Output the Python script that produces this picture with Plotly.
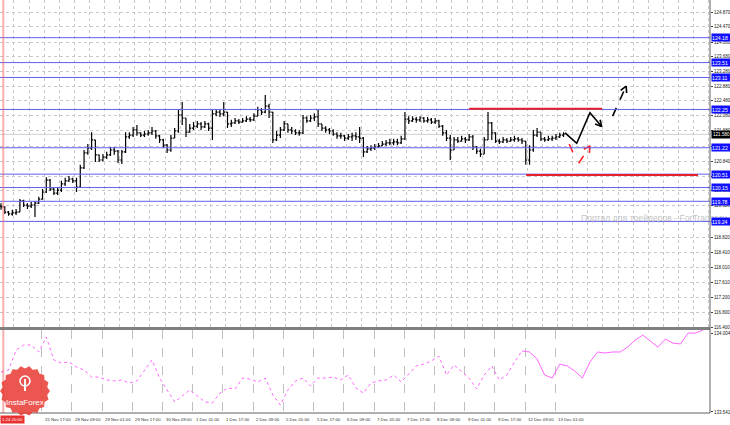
import math
import plotly.graph_objects as go

# ---------------- price bars (bar index = time slot) ----------------
bar_open = [119.65,119.63,119.49,119.44,119.47,119.49,119.79,119.68,119.65,119.68,
119.73,119.84,120.03,120.35,120.11,120.00,120.08,120.25,120.33,120.38,
120.33,120.16,120.68,121.08,121.21,121.43,121.03,120.89,120.97,121.03,
121.16,121.13,120.89,121.11,121.51,121.56,121.70,121.62,121.56,121.59,
121.62,121.67,121.54,121.43,121.29,121.16,121.48,121.67,122.10,122.02,
121.64,121.75,121.80,121.86,121.78,121.86,121.75,122.13,122.18,122.13,
122.18,121.86,121.89,121.94,121.91,121.94,121.99,121.97,122.07,122.24,
122.18,122.34,122.18,121.43,121.56,121.70,121.86,121.70,121.67,121.62,
121.62,122.02,121.94,122.02,122.05,121.86,121.75,121.70,121.67,121.59,
121.54,121.54,121.48,121.51,121.54,121.51,121.48,121.11,121.19,121.21,
121.24,121.27,121.32,121.35,121.35,121.38,121.35,121.46,121.99,121.94,
121.99,121.97,122.02,121.94,121.97,121.91,121.94,121.80,121.62,121.48,
121.16,121.43,121.40,121.46,121.43,121.51,121.24,121.13,121.05,121.43,
121.89,121.62,121.40,121.38,121.43,121.40,121.43,121.46,121.43,121.40,
120.89,121.16,121.56,121.64,121.46,121.43,121.46,121.48,121.51,121.56]
bar_high = [119.73,119.65,119.52,119.55,119.57,119.84,119.82,119.73,119.76,119.79,
119.90,120.11,120.43,120.38,120.14,120.16,120.33,120.41,120.46,120.41,
120.41,120.76,121.16,121.32,121.64,121.43,121.03,121.05,121.11,121.24,
121.24,121.16,121.16,121.64,121.64,121.78,121.83,121.64,121.67,121.70,
121.78,121.70,121.56,121.46,121.32,121.56,121.75,122.24,122.45,122.02,
121.86,121.91,121.94,121.91,121.94,121.89,122.24,122.26,122.24,122.45,
122.18,121.97,122.02,121.99,122.02,122.07,122.05,122.15,122.32,122.29,
122.64,122.40,122.18,121.67,121.78,121.94,121.86,121.78,121.72,121.70,
122.10,122.07,122.10,122.15,122.24,121.86,121.80,121.75,121.72,121.64,
121.62,121.56,121.59,121.62,121.64,121.78,121.51,121.27,121.29,121.32,
121.35,121.40,121.43,121.46,121.46,121.46,121.54,122.18,122.07,122.07,
122.05,122.07,122.05,122.05,122.02,122.02,121.97,121.83,121.70,121.56,
121.51,121.51,121.54,121.51,121.59,121.56,121.27,121.19,121.51,122.18,
121.91,121.64,121.46,121.51,121.48,121.51,121.54,121.51,121.48,121.40,
121.29,121.70,121.75,121.64,121.51,121.54,121.54,121.59,121.62,121.64]
bar_low = [119.55,119.44,119.39,119.39,119.41,119.49,119.63,119.57,119.60,119.36,
119.71,119.82,120.00,120.06,119.95,119.95,120.03,120.19,120.30,120.27,
120.03,120.14,120.65,121.03,121.16,120.84,120.84,120.86,120.92,121.00,
121.03,120.81,120.78,121.08,121.46,121.51,121.54,121.51,121.51,121.54,
121.56,121.46,121.35,121.21,121.08,121.11,121.48,121.62,121.83,121.51,
121.62,121.70,121.75,121.70,121.75,121.67,121.43,122.07,122.05,122.07,
121.75,121.78,121.86,121.86,121.89,121.91,121.91,121.94,122.07,122.10,
122.15,122.02,121.35,121.40,121.48,121.67,121.62,121.59,121.56,121.54,
121.59,121.89,121.91,121.94,121.78,121.67,121.62,121.59,121.54,121.46,
121.46,121.40,121.43,121.40,121.43,121.35,120.97,121.08,121.13,121.16,
121.21,121.27,121.27,121.29,121.29,121.29,121.32,121.43,121.86,121.91,
121.89,121.91,121.89,121.89,121.86,121.86,121.75,121.54,121.40,120.89,
121.16,121.35,121.38,121.35,121.40,121.16,121.05,120.97,121.05,121.43,
121.43,121.35,121.32,121.35,121.35,121.38,121.38,121.38,121.32,120.76,
120.76,121.11,121.51,121.40,121.38,121.40,121.40,121.43,121.48,121.51]
bar_close = [119.63,119.49,119.44,119.47,119.49,119.79,119.68,119.65,119.68,119.73,
119.84,120.03,120.35,120.11,120.00,120.08,120.25,120.33,120.38,120.33,
120.16,120.68,121.08,121.21,121.43,121.03,120.89,120.97,121.03,121.16,
121.13,120.89,121.11,121.51,121.56,121.70,121.62,121.56,121.59,121.62,
121.67,121.54,121.43,121.29,121.16,121.48,121.67,122.10,122.02,121.64,
121.75,121.80,121.86,121.78,121.86,121.75,122.13,122.18,122.13,122.18,
121.86,121.89,121.94,121.91,121.94,121.99,121.97,122.07,122.24,122.18,
122.34,122.18,121.43,121.56,121.70,121.86,121.70,121.67,121.62,121.62,
122.02,121.94,122.02,122.05,121.86,121.75,121.70,121.67,121.59,121.54,
121.54,121.48,121.51,121.54,121.51,121.48,121.11,121.19,121.21,121.24,
121.27,121.32,121.35,121.35,121.38,121.35,121.46,121.99,121.94,121.99,
121.97,122.02,121.94,121.97,121.91,121.94,121.80,121.62,121.48,121.16,
121.43,121.40,121.46,121.43,121.51,121.24,121.13,121.05,121.43,121.89,
121.62,121.40,121.38,121.43,121.40,121.43,121.46,121.43,121.40,120.89,
121.16,121.56,121.64,121.46,121.43,121.46,121.48,121.51,121.56,121.59]
bar_idx = list(range(len(bar_close)))

# ---------------- lower-panel indicator (one value every 2 bars) ----------------
ind_values = [133.776,133.787,133.904,133.934,133.934,133.893,133.981,133.846,133.828,133.834,
133.805,133.787,133.746,133.746,133.729,133.723,133.729,133.711,133.723,133.787,
133.846,133.740,133.670,133.600,133.635,133.670,133.635,133.600,133.594,133.652,
133.682,133.676,133.740,133.734,133.717,133.740,133.641,133.582,133.670,133.723,
133.740,133.693,133.740,133.740,133.746,133.729,133.758,133.682,133.652,133.711,
133.723,133.729,133.758,133.717,133.764,133.811,133.822,133.840,133.869,133.758,
133.817,133.776,133.740,133.676,133.758,133.811,133.729,133.758,133.834,133.899,
133.893,133.852,133.758,133.740,133.822,133.811,133.781,133.740,133.834,133.893,
133.887,133.893,133.893,133.922,133.963,133.992,133.957,133.922,133.969,133.945,
133.940,134.004,134.004,134.022]
ind_idx = [2 * k for k in range(len(ind_values))]
ind_dotted_until = 138  # bar index where the indicator turns solid

# ---------------- axes text ----------------
price_ticks = [124.870,124.470,124.060,123.680,123.280,122.880,122.480,122.080,121.680,121.260,
               120.840,120.460,120.080,119.680,119.250,118.820,118.410,118.010,117.610,117.200,
               116.800,116.400]
ind_ticks = [134.004, 133.541]
time_labels = ["25 Nov 17:00","28 Nov 09:00","29 Nov 01:00","29 Nov 17:00","30 Nov 09:00",
               "1 Dec 01:00","1 Dec 17:00","2 Dec 09:00","5 Dec 01:00","5 Dec 17:00",
               "6 Dec 09:00","7 Dec 01:00","7 Dec 17:00","8 Dec 09:00","9 Dec 01:00",
               "9 Dec 17:00","12 Dec 09:00","13 Dec 01:00"]
time_label_bars = [10.8 + 8 * k for k in range(len(time_labels))]
marker_label = "1.24 20:00"

# ---------------- analysis drawings ----------------
blue_levels = [124.18, 123.51, 123.11, 122.25, 121.22, 120.51, 120.15, 119.78, 119.24]
blue_level_text = ["124.18", "123.51", "123.11", "122.25", "121.22", "120.51", "120.15", "119.78", "119.24"]
last_price = 121.58
red_levels = [(124.0, 159.2, 122.27), (139.1, 184.6, 120.49)]  # (from bar, to bar, price)
black_path = [(149.4, 121.62), (152.5, 121.34), (156.0, 122.16), (159.1, 121.79)]
black_dash = [(162.0, 122.07), (165.6, 122.88)]
red_dash_a = [(150.5, 121.32), (152.0, 120.98)]
red_dash_b = [(153.0, 120.80), (156.0, 121.27)]
vline_bar = 0.6

# ---------------- geometry ----------------
W, H = 730, 425
ML, MR, MT, MB = 0, 20, 0, 12
PW, PH = W - ML - MR, H - MT - MB
X_RANGE = [-0.265, 187.8]
Y_RANGE = [116.373, 125.193]
Y2_RANGE = [133.535, 134.022]
MAIN_BOTTOM_PX = 328
LOW_TOP_PX = 330
main_dom = [(PH - MAIN_BOTTOM_PX) / PH, 1]
low_dom = [0, (PH - LOW_TOP_PX) / PH]
FONT = "Liberation Sans"

def to_px(i, p):
    x = (i - X_RANGE[0]) / (X_RANGE[1] - X_RANGE[0]) * PW
    y = (Y_RANGE[1] - p) / (Y_RANGE[1] - Y_RANGE[0]) * MAIN_BOTTOM_PX
    return x, y

def from_px(x, y):
    i = X_RANGE[0] + x / PW * (X_RANGE[1] - X_RANGE[0])
    p = Y_RANGE[1] - y / MAIN_BOTTOM_PX * (Y_RANGE[1] - Y_RANGE[0])
    return i, p

def head(a, b, length=7.0, ang=28):
    ax, ay = to_px(*a)
    bx, by = to_px(*b)
    d = math.atan2(ay - by, ax - bx)
    xs, ys = [], []
    for s in (-1, 1):
        t = d + s * math.radians(ang)
        i, p = from_px(bx + length * math.cos(t), by + length * math.sin(t))
        xs += [i, b[0], None]
        ys += [p, b[1], None]
    return xs, ys

fig = go.Figure()

# price bars
fig.add_trace(go.Ohlc(
    x=bar_idx, open=bar_open, high=bar_high, low=bar_low, close=bar_close,
    increasing=dict(line=dict(color="#000000", width=1.2)),
    decreasing=dict(line=dict(color="#000000", width=1.2)),
    tickwidth=0.4, showlegend=False, hoverinfo="skip", xaxis="x", yaxis="y"))

# indicator
dot_x = [x for x in ind_idx if x <= ind_dotted_until]
dot_y = ind_values[:len(dot_x)]
fig.add_trace(go.Scatter(x=dot_x, y=dot_y, mode="lines",
                         line=dict(color="#ff66ff", width=1, dash="dot"),
                         showlegend=False, hoverinfo="skip", xaxis="x2", yaxis="y2"))
fig.add_trace(go.Scatter(x=ind_idx[len(dot_x) - 1:], y=ind_values[len(dot_x) - 1:], mode="lines",
                         line=dict(color="#ff66ff", width=1),
                         showlegend=False, hoverinfo="skip", xaxis="x2", yaxis="y2"))

# arrows
def add_path(pts, color, dash, with_head):
    fig.add_trace(go.Scatter(x=[p[0] for p in pts], y=[p[1] for p in pts], mode="lines",
                             line=dict(color=color, width=1.6, dash=dash),
                             showlegend=False, hoverinfo="skip", xaxis="x", yaxis="y"))
    if with_head:
        hx, hy = head(pts[-2], pts[-1])
        fig.add_trace(go.Scatter(x=hx, y=hy, mode="lines", line=dict(color=color, width=1.6),
                                 showlegend=False, hoverinfo="skip", xaxis="x", yaxis="y"))

add_path(black_path, "#000000", "solid", True)
add_path(black_dash, "#000000", "dash", True)
add_path(red_dash_a, "#ff2020", "dash", False)
add_path(red_dash_b, "#ff2020", "dash", True)

shapes = []
# current price line
shapes.append(dict(type="line", xref="x domain", x0=0, x1=1, yref="y", y0=last_price, y1=last_price,
                   line=dict(color="#d0d0d0", width=1), layer="below"))
for lv in blue_levels:
    shapes.append(dict(type="line", xref="x domain", x0=0, x1=1, yref="y", y0=lv, y1=lv,
                       line=dict(color="#6060f0", width=1)))
for a, b, p in red_levels:
    shapes.append(dict(type="line", xref="x", x0=a, x1=b, yref="y", y0=p, y1=p,
                       line=dict(color="#e8202a", width=2)))
# vertical time marker
shapes.append(dict(type="line", xref="x", x0=vline_bar, x1=vline_bar, yref="paper", y0=0, y1=1,
                   line=dict(color="rgba(240,110,110,0.55)", width=2)))
# panel separator and frame
sep_y = (PH - 328.5) / PH
shapes.append(dict(type="line", xref="paper", x0=0, x1=1, yref="paper", y0=sep_y, y1=sep_y,
                   line=dict(color="#808080", width=3)))
shapes.append(dict(type="line", xref="paper", x0=1, x1=1, yref="paper", y0=0, y1=1,
                   line=dict(color="#606060", width=1)))
shapes.append(dict(type="line", xref="paper", x0=0, x1=1, yref="paper", y0=0, y1=0,
                   line=dict(color="#606060", width=1)))

# InstaForex badge (starburst)
cx, cy, R = 25, 391, 25
pts = []
n = 36
for k in range(n):
    r = R if k % 2 == 0 else R - 2.5
    t = 2 * math.pi * k / n
    px_, py_ = cx + r * math.cos(t), cy + r * math.sin(t)
    pts.append((px_ / PW, (PH - py_) / PH))
path = "M " + " L ".join(f"{x:.4f},{y:.4f}" for x, y in pts) + " Z"
shapes.append(dict(type="path", xref="paper", yref="paper", path=path,
                   fillcolor="rgba(232,64,56,0.88)", line=dict(width=0)))
# icon in badge
shapes.append(dict(type="circle", xref="paper", yref="paper",
                   x0=(cx - 5) / PW, x1=(cx + 5) / PW, y0=(PH - 386) / PH, y1=(PH - 376) / PH,
                   line=dict(color="white", width=1.5)))
shapes.append(dict(type="line", xref="paper", yref="paper",
                   x0=cx / PW, x1=cx / PW, y0=(PH - 391) / PH, y1=(PH - 379) / PH,
                   line=dict(color="white", width=2)))

annotations = []
annotations.append(dict(text="Портал для трейдеров - ForTrader.ru", xref="paper", yref="paper",
                        x=579 / PW, y=(PH - 218) / PH, xanchor="left", yanchor="middle",
                        showarrow=False, font=dict(family=FONT, size=8.6, color="#c4c4c4")))
annotations.append(dict(text="InstaForex", xref="paper", yref="paper", x=cx / PW, y=(PH - 402) / PH,
                        xanchor="center", yanchor="middle", showarrow=False,
                        font=dict(family=FONT, size=8, color="white")))
for lv, t in zip(blue_levels, blue_level_text):
    annotations.append(dict(text=t, xref="paper", x=1, xanchor="left", xshift=1, yref="y", y=lv,
                            yanchor="middle", showarrow=False, bgcolor="#1010ff", borderpad=0,
                            width=19, height=7, align="left",
                            font=dict(family=FONT, size=5.2, color="white")))
annotations.append(dict(text=f"{last_price:.3f}", xref="paper", x=1, xanchor="left", xshift=1, yref="y",
                        y=last_price, yanchor="middle", showarrow=False, bgcolor="#000000", borderpad=0,
                        width=19, height=7, font=dict(family=FONT, size=4.6, color="white")))
for t, b in zip(time_labels, time_label_bars):
    annotations.append(dict(text=t, xref="x2", x=b, xanchor="left", xshift=1, yref="paper", y=0,
                            yanchor="top", yshift=-2, showarrow=False,
                            font=dict(family=FONT, size=4.3, color="#303030")))
annotations.append(dict(text=marker_label, xref="paper", x=0, xanchor="left", yref="paper", y=0,
                        yanchor="top", yshift=-2, showarrow=False, bgcolor="#e83030", borderpad=1,
                        font=dict(family=FONT, size=4.3, color="white")))

axis_font = dict(family=FONT, size=4.5, color="#202020")
fig.update_layout(
    width=W, height=H, margin=dict(l=ML, r=MR, t=MT, b=MB, pad=0, autoexpand=False),
    paper_bgcolor="white", plot_bgcolor="white",
    xaxis=dict(domain=[0, 1], range=X_RANGE, anchor="y", showticklabels=False, ticks="",
               tickvals=[3.44 + 4 * k for k in range(47)], showgrid=True, gridcolor="#c8c8c8",
               griddash="dot", gridwidth=1, zeroline=False, rangeslider=dict(visible=False),
               automargin=False),
    yaxis=dict(domain=main_dom, range=Y_RANGE, side="right", anchor="x", tickvals=price_ticks,
               ticktext=[f"{v:.3f}" for v in price_ticks], showgrid=True, gridcolor="#c8c8c8",
               griddash="dot", zeroline=False, ticks="outside", ticklen=2, tickcolor="#404040",
               automargin=False, tickfont=axis_font),
    xaxis2=dict(domain=[0, 1], range=X_RANGE, anchor="y2", matches="x", showticklabels=False,
                ticks="", tickvals=time_label_bars, showgrid=True, gridcolor="#c0c0c0", griddash="dash",
                zeroline=False, automargin=False),
    yaxis2=dict(domain=low_dom, range=Y2_RANGE, side="right", anchor="x2", tickvals=ind_ticks,
                ticktext=[f"{v:.3f}" for v in ind_ticks], showgrid=False, zeroline=False,
                ticks="outside", ticklen=2, tickcolor="#404040", automargin=False,
                tickfont=axis_font),
    shapes=shapes, annotations=annotations,
)

fig.write_html("out.html", config={"displayModeBar": False},
               post_script="document.body.style.margin='0';document.body.style.overflow='hidden';")
